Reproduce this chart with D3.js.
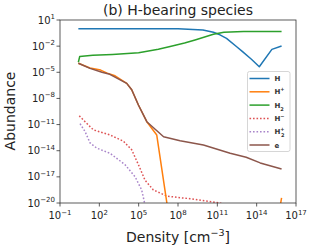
<!DOCTYPE html>
<html>
<head>
<meta charset="utf-8">
<script src="https://cdn.jsdelivr.net/npm/d3@7"></script>
<style>
  body { margin: 0; background: #fff; }
  svg { font-family: "DejaVu Sans", sans-serif; }
</style>
</head>
<body>
<svg id="chart" width="311" height="248"></svg>
<script>
// log10(density) / log10(abundance)
const hLogN  = [0.4, 2, 5, 8, 9.9, 10.7, 11.2, 11.7, 12.5, 12.9, 13.6, 14.2, 15.16, 15.9];
const hLogA  = [0, 0, 0, 0, -0.15, -0.4, -0.7, -1.1, -2.1, -2.6, -3.5, -4.36, -2.37, -1.98];

const h2LogN = [0.4, 0.5, 1.5, 3, 5, 6.5, 7.4, 8.5, 9.3, 10.7, 11.5, 13, 15.9];
const h2LogA = [-3.85, -3.2, -3.05, -2.95, -2.75, -2.35, -2.05, -1.65, -1.3, -0.64, -0.4, -0.33, -0.33];

const hpLogN = [0.4, 1.29, 2.1, 2.6, 3.2, 4.09, 4.47, 4.98, 5.62, 6.38, 7.3, 15.5, 15.9];
const hpLogA = [-3.97, -4.5, -4.75, -5.1, -5.4, -6.27, -7.0, -8.75, -10.67, -12.2, -21.5, -23, -19.4];

const eLogN  = [0.4, 1.29, 2.2, 2.8, 4.09, 4.47, 4.98, 5.62, 6.9, 8.16, 9.94, 11.98, 13.2, 14.27, 15.9];
const eLogA  = [-3.97, -4.55, -5.0, -5.23, -6.27, -7.0, -8.75, -10.67, -12.4, -12.85, -13.35, -14.3, -14.75, -15.4, -16.1];

const hmLogN = [0.47, 0.91, 1.54, 2.82, 3.83, 4.47, 4.98, 5.49, 6.12, 7.14, 8.16, 8.92, 11.2, 12];
const hmLogA = [-10.0, -10.67, -11.6, -12.2, -12.9, -13.9, -15.6, -17.4, -18.5, -19.2, -19.4, -19.5, -20, -20.5];

const h2pLogN = [0.53, 0.91, 1.29, 1.8, 2.82, 3.96, 4.73, 5.23, 5.6];
const h2pLogA = [-10.9, -11.8, -13.1, -13.7, -14.3, -15.6, -17.0, -18.5, -21];

const xTickExp = [-1, 2, 5, 8, 11, 14, 17];
const yTickExp = [1, -2, -5, -8, -11, -14, -17, -20];

const series = [
  { name: "H",   sup: "",  sub: "",  n: hLogN,   a: hLogA,   color: "#1f77b4", dash: null },
  { name: "H",   sup: "+", sub: "",  n: hpLogN,  a: hpLogA,  color: "#ff7f0e", dash: null },
  { name: "H",   sup: "",  sub: "2", n: h2LogN,  a: h2LogA,  color: "#2ca02c", dash: null },
  { name: "H",   sup: "−", sub: "",  n: hmLogN,  a: hmLogA,  color: "#d62728", dash: "1.6,1.9" },
  { name: "H",   sup: "+", sub: "2", n: h2pLogN, a: h2pLogA, color: "#9467bd", dash: "1.6,1.9" },
  { name: "e",   sup: "",  sub: "",  n: eLogN,   a: eLogA,   color: "#8c564b", dash: null }
];

const margin = { left: 60, top: 20, right: 15, bottom: 45 };
const svg = d3.select("#chart");

const x = d3.scaleLog().domain([1e-1, 1e17]).range([margin.left, 296]);
const y = d3.scaleLog().domain([1e-20, 1e1]).range([203, margin.top]);

svg.append("clipPath").attr("id", "clip")
  .append("rect")
  .attr("x", margin.left).attr("y", margin.top)
  .attr("width", 296 - margin.left).attr("height", 203 - margin.top);

// lines
const line = d3.line()
  .x(d => x(Math.pow(10, d[0])))
  .y(d => y(Math.pow(10, d[1])));

const drawOrder = [3, 4, 0, 2, 1, 5];
drawOrder.forEach(i => {
  const s = series[i];
  const pts = s.n.map((v, k) => [v, s.a[k]]);
  svg.append("path")
    .attr("clip-path", "url(#clip)")
    .attr("d", line(pts))
    .attr("fill", "none")
    .attr("stroke", s.color)
    .attr("stroke-width", 1.5)
    .attr("stroke-opacity", s.dash ? 0.8 : 1)
    .attr("stroke-dasharray", s.dash)
    .attr("stroke-linejoin", "round");
});

// frame
svg.append("rect")
  .attr("x", margin.left).attr("y", margin.top)
  .attr("width", 296 - margin.left).attr("height", 203 - margin.top)
  .attr("fill", "none").attr("stroke", "#333").attr("stroke-width", 0.8);

function powLabel(sel, exp) {
  sel.text("10");
  sel.append("tspan")
    .attr("dy", -4.5)
    .attr("font-size", 7)
    .text(exp < 0 ? "−" + Math.abs(exp) : String(exp));
}

// x ticks
xTickExp.forEach(e => {
  const px = x(Math.pow(10, e));
  svg.append("line").attr("x1", px).attr("x2", px).attr("y1", 203).attr("y2", 206.5)
    .attr("stroke", "#333").attr("stroke-width", 0.8);
  const t = svg.append("text")
    .attr("x", px).attr("y", 219)
    .attr("text-anchor", "middle")
    .attr("font-size", 10)
    .attr("fill", "#222");
  powLabel(t, e);
});

// y ticks
yTickExp.forEach(e => {
  const py = y(Math.pow(10, e));
  svg.append("line").attr("x1", margin.left - 3.5).attr("x2", margin.left).attr("y1", py).attr("y2", py)
    .attr("stroke", "#333").attr("stroke-width", 0.8);
  const t = svg.append("text")
    .attr("x", margin.left - 5).attr("y", py + 3.5)
    .attr("text-anchor", "end")
    .attr("font-size", 10)
    .attr("fill", "#222");
  powLabel(t, e);
});

// title and axis labels
svg.append("text")
  .attr("x", 178).attr("y", 14.5)
  .attr("text-anchor", "middle")
  .attr("font-size", 14)
  .attr("fill", "#222")
  .text("(b) H-bearing species");

svg.append("text")
  .attr("transform", "translate(15,111) rotate(-90)")
  .attr("text-anchor", "middle")
  .attr("font-size", 14)
  .attr("fill", "#222")
  .text("Abundance");

const xl = svg.append("text")
  .attr("x", 178).attr("y", 242)
  .attr("text-anchor", "middle")
  .attr("font-size", 14)
  .attr("fill", "#222")
  .text("Density [cm");
xl.append("tspan").attr("dy", -6).attr("font-size", 9.5).text("−3");
xl.append("tspan").attr("dy", 6).text("]");

// legend
const lg = svg.append("g");
lg.append("rect")
  .attr("x", 247.5).attr("y", 71.5)
  .attr("width", 42.5).attr("height", 80)
  .attr("rx", 2)
  .attr("fill", "#fff").attr("fill-opacity", 0.8)
  .attr("stroke", "#ccc").attr("stroke-width", 0.8);

series.forEach((s, i) => {
  const ly = 78.5 + i * 13.3;
  lg.append("line")
    .attr("x1", 249.5).attr("x2", 269.5).attr("y1", ly).attr("y2", ly)
    .attr("stroke", s.color)
    .attr("stroke-width", 1.5)
    .attr("stroke-opacity", s.dash ? 0.8 : 1)
    .attr("stroke-dasharray", s.dash);
  const t = lg.append("text")
    .attr("x", 274.5).attr("y", ly + 2.5)
    .attr("font-size", 7)
    .attr("font-weight", "bold")
    .attr("fill", "#333")
    .text(s.name);
  if (s.sup) t.append("tspan").attr("dy", -3).attr("font-size", 5).text(s.sup);
  if (s.sub) t.append("tspan")
    .attr("dx", s.sup ? -3.5 : 0)
    .attr("dy", s.sup ? 6 : 3).attr("font-size", 5).text(s.sub);
});
</script>
</body>
</html>
